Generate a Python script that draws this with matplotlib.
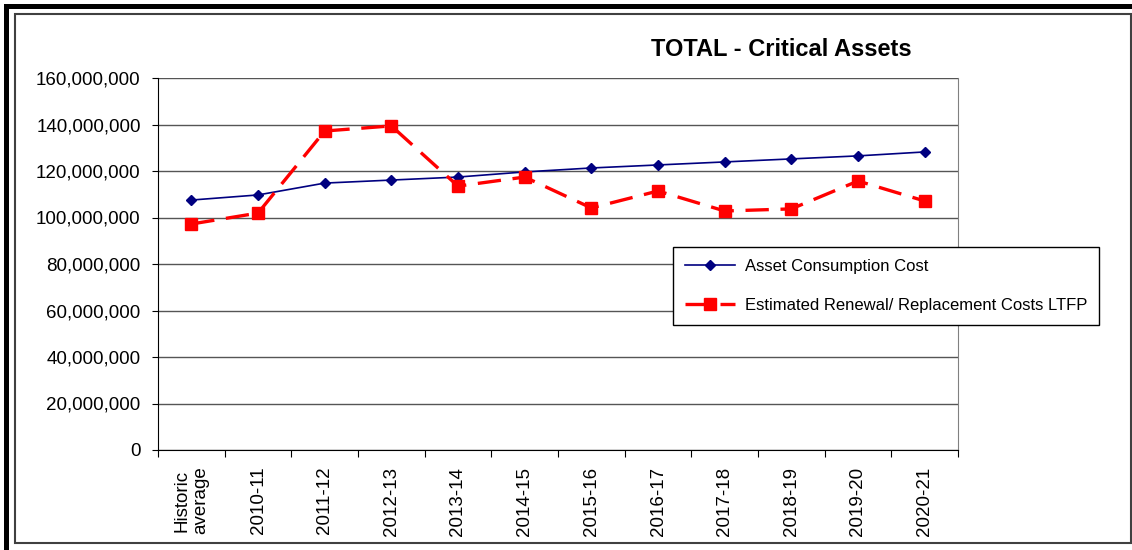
import numpy as np
import matplotlib.pyplot as plt
from matplotlib.patches import Rectangle
from matplotlib.ticker import FuncFormatter

plt.rcParams['font.family'] = ['Liberation Sans', 'DejaVu Sans']

categories = ['Historic\naverage', '2010-11', '2011-12', '2012-13', '2013-14', '2014-15',
              '2015-16', '2016-17', '2017-18', '2018-19', '2019-20', '2020-21']
consumption = [107.5, 109.7, 114.8, 116.1, 117.4, 119.6, 121.3, 122.6, 123.9, 125.2, 126.5, 128.2]
renewal = [97.2, 101.9, 137.2, 139.4, 113.5, 117.4, 104.1, 111.4, 102.8, 103.7, 115.7, 107.1]
consumption = np.array(consumption) * 1e6
renewal = np.array(renewal) * 1e6

W, H = 1132, 550
fig = plt.figure(figsize=(W / 100, H / 100), dpi=100)

# outer frame
fig.add_artist(Rectangle((4 / W, 1 - 9 / H), 1 - 4 / W, 5 / H, transform=fig.transFigure,
                         facecolor='black', edgecolor='none'))
fig.add_artist(Rectangle((4 / W, 0), 5 / W, 1 - 4 / H, transform=fig.transFigure,
                         facecolor='black', edgecolor='none'))
fig.add_artist(Rectangle((15 / W, 1 - 543 / H), 1116 / W, 529 / H, transform=fig.transFigure,
                         facecolor='none', edgecolor='#404040', lw=1.5))

ax = fig.add_axes([158 / W, 100 / H, 800 / W, 372 / H])
x = np.arange(len(categories))

ax.plot(x, consumption, color='#000080', lw=1.2, marker='D', ms=5,
        label='Asset Consumption Cost', zorder=3)
ax.plot(x, renewal, color='#ff0000', lw=2.4, ls=(0, (7, 3.5)), marker='s', ms=9,
        label='Estimated Renewal/ Replacement Costs LTFP', zorder=4)

ax.set_xlim(-0.5, len(categories) - 0.5)
ax.set_ylim(0, 160e6)
ax.set_yticks(np.arange(0, 160e6 + 1, 20e6))
ax.yaxis.set_major_formatter(FuncFormatter(lambda v, p: f'{int(v):,}'))
ax.tick_params(axis='y', labelsize=13.5, length=4.5, direction='out', pad=8)
ax.yaxis.grid(True, color='#555555', lw=1)
ax.set_axisbelow(True)

ax.set_xticks(np.arange(-0.5, len(categories)), labels=[''] * (len(categories) + 1))
ax.tick_params(axis='x', which='major', length=5, direction='out')
ax.set_xticks(x, minor=True)
ax.set_xticklabels(categories, minor=True, rotation=90, fontsize=13.5, va='top', ha='center',
                   linespacing=1.1)
ax.tick_params(axis='x', which='minor', length=0, pad=12)

ax.spines['top'].set_visible(False)
ax.spines['right'].set_color('#808080')
ax.spines['left'].set_color('black')
ax.spines['bottom'].set_color('black')

fig.text(781 / W, 1 - 50 / H, 'TOTAL - Critical Assets', fontsize=17, fontweight='bold',
         ha='center', va='center')

leg = ax.legend(loc='upper left', bbox_to_anchor=(673 / W, 1 - 247 / H),
                bbox_transform=fig.transFigure, fontsize=12, frameon=True, fancybox=False,
                edgecolor='black', borderpad=0.7, labelspacing=1.45, handlelength=3.0,
                handletextpad=0.6, borderaxespad=0)
leg.get_frame().set_linewidth(1)
leg.get_frame().set_alpha(1)

fig.savefig('out.png', dpi=100)
